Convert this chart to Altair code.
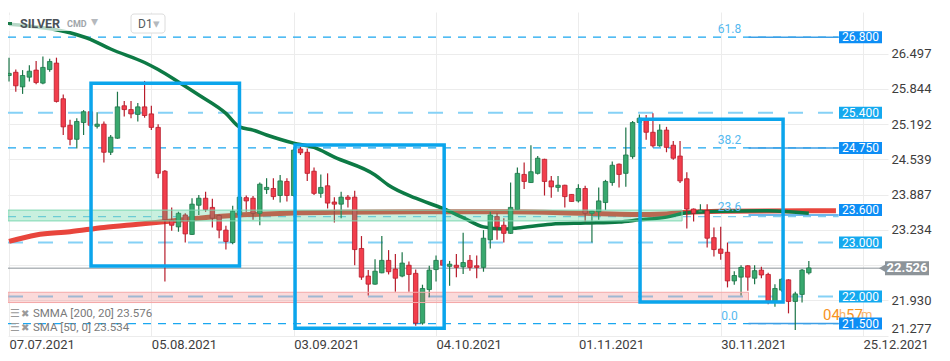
import altair as alt
import pandas as pd

# ---------------- data ----------------
opens = [26.09, 26.15, 25.88, 26.06, 26.19, 25.95, 26.20, 26.32, 25.66, 25.17,
         24.91, 25.22, 25.42, 25.15, 25.19, 24.67, 24.93, 25.53, 25.46, 25.37,
         25.51, 25.38, 25.13, 24.32, 23.41, 23.29, 23.51, 23.15, 23.69, 23.82,
         23.65, 23.50, 23.23, 23.00, 23.51, 23.83, 23.82, 23.54, 23.98, 24.00,
         23.87, 24.13, 23.87, 24.73, 24.67, 24.32, 23.91, 24.05, 23.75, 23.71,
         23.84, 23.84, 22.89, 22.38, 22.23, 22.44, 22.67, 22.51, 22.38, 22.58,
         22.43, 21.51, 22.13, 22.50, 22.67, 22.56, 22.58, 22.55, 22.67, 22.57,
         22.54, 23.05, 23.48, 23.32, 23.17, 23.61, 24.26, 24.11, 24.28, 24.54,
         24.14, 24.02, 24.06, 23.89, 23.77, 24.00, 23.54, 23.57, 23.74, 24.11,
         24.45, 24.28, 24.59, 25.22, 25.27, 25.04, 24.79, 25.08, 24.80, 24.60,
         24.18, 23.62, 23.56, 23.59, 23.09, 22.88, 22.82, 22.29, 22.36, 22.57,
         22.34, 22.49, 22.41, 21.91, 22.12, 22.31, 21.91, 22.04, 22.44]
highs = [26.42, 26.20, 26.19, 26.28, 26.36, 26.44, 26.40, 26.42, 25.74, 25.27,
         25.30, 25.45, 25.42, 25.41, 25.24, 24.99, 25.79, 25.62, 25.62, 25.58,
         25.99, 25.53, 25.19, 24.34, 23.65, 23.57, 23.54, 23.82, 23.88, 23.94,
         23.81, 23.52, 23.31, 23.68, 23.85, 23.87, 23.86, 24.11, 24.19, 24.19,
         24.25, 24.19, 24.74, 24.77, 24.74, 24.39, 24.26, 24.28, 23.84, 23.94,
         23.88, 23.96, 23.12, 22.49, 22.69, 23.12, 22.86, 22.79, 22.82, 22.65,
         22.50, 22.22, 22.57, 22.76, 22.68, 22.66, 22.79, 23.18, 22.77, 22.76,
         23.23, 23.57, 23.54, 23.45, 24.11, 24.39, 24.48, 24.80, 24.60, 24.55,
         24.23, 24.23, 24.07, 23.89, 24.08, 24.05, 23.59, 24.02, 24.16, 24.50,
         24.46, 25.13, 25.25, 25.37, 25.36, 25.39, 25.19, 25.14, 24.88, 24.88,
         24.30, 23.63, 23.71, 23.71, 23.28, 23.29, 23.00, 22.47, 22.58, 22.58,
         22.58, 22.55, 22.44, 22.23, 22.34, 22.32, 22.09, 22.51, 22.66]
lows = [25.98, 25.79, 25.75, 25.98, 25.93, 25.93, 26.16, 25.59, 24.99, 24.80,
        24.74, 24.99, 25.14, 25.11, 24.48, 24.62, 24.92, 25.33, 25.30, 25.24,
        25.31, 25.08, 24.19, 22.28, 23.22, 23.20, 23.00, 23.14, 23.51, 23.57,
        23.28, 23.08, 22.87, 22.97, 23.48, 23.57, 23.42, 23.32, 23.90, 23.79,
        23.74, 23.76, 23.85, 24.62, 24.14, 23.88, 23.83, 23.63, 23.37, 23.45,
        23.65, 22.58, 22.31, 22.02, 22.22, 22.43, 22.41, 22.09, 22.36, 22.09,
        21.46, 21.48, 21.99, 22.28, 22.58, 22.20, 22.36, 22.42, 22.48, 22.34,
        22.46, 22.89, 23.05, 23.00, 23.16, 23.60, 23.99, 24.10, 24.26, 23.87,
        23.83, 23.94, 23.65, 23.76, 23.74, 23.39, 23.00, 23.42, 23.60, 24.05,
        24.02, 24.03, 24.55, 25.21, 24.90, 24.76, 24.77, 24.67, 24.53, 24.10,
        23.26, 23.39, 23.54, 22.91, 22.74, 22.68, 22.17, 22.22, 22.02, 22.11,
        22.23, 22.34, 21.86, 21.81, 22.09, 21.69, 21.38, 21.89, 22.41]
closes = [26.13, 25.90, 26.09, 26.17, 25.96, 26.24, 26.35, 25.61, 25.14, 24.91,
          25.24, 25.42, 25.17, 25.19, 24.67, 24.95, 25.51, 25.46, 25.38, 25.51,
          25.35, 25.13, 24.28, 23.42, 23.32, 23.54, 23.16, 23.71, 23.82, 23.61,
          23.45, 23.23, 23.02, 23.58, 23.84, 23.77, 23.54, 24.08, 24.02, 23.85,
          24.14, 23.87, 24.71, 24.66, 24.28, 23.91, 24.02, 23.73, 23.71, 23.84,
          23.80, 22.87, 22.36, 22.23, 22.47, 22.67, 22.46, 22.34, 22.62, 22.41,
          21.51, 22.15, 22.49, 22.67, 22.58, 22.60, 22.54, 22.63, 22.54, 22.54,
          23.08, 23.51, 23.29, 23.17, 23.65, 24.28, 24.13, 24.31, 24.56, 24.13,
          24.03, 24.06, 23.85, 23.76, 24.00, 23.54, 23.58, 23.77, 24.13, 24.43,
          24.26, 24.62, 25.22, 25.30, 25.04, 24.79, 25.08, 24.76, 24.56, 24.14,
          23.62, 23.54, 23.60, 23.08, 22.87, 22.80, 22.29, 22.39, 22.54, 22.36,
          22.48, 22.40, 21.91, 22.15, 22.32, 21.91, 22.05, 22.49, 22.53]

# moving averages (bar index, value)
sma_idx = [0, 9, 12, 15, 20, 22, 25, 28, 32, 34, 36, 38, 42, 45, 48, 54, 56, 60,
           64, 67, 70, 73, 75, 80, 85, 90, 93, 97, 100, 105, 112, 118]
sma_val = [27.04, 26.88, 26.76, 26.58, 26.33, 26.20, 25.97, 25.73, 25.39, 25.14,
           25.08, 24.99, 24.84, 24.76, 24.58, 24.25, 24.06, 23.82, 23.63, 23.46,
           23.29, 23.25, 23.27, 23.34, 23.36, 23.38, 23.42, 23.47, 23.55, 23.58,
           23.59, 23.54]
smma_idx = [0, 4, 9, 14, 19, 24, 28, 33, 38, 43, 48, 61, 73, 85, 92, 97, 100, 105, 118, 122]
smma_val = [23.02, 23.14, 23.20, 23.28, 23.34, 23.40, 23.45, 23.50, 23.53, 23.55,
            23.56, 23.57, 23.57, 23.54, 23.52, 23.53, 23.56, 23.58, 23.59, 23.59]

# axes
x_tick_idx = [0, 21, 42, 63, 84, 105, 126]
x_tick_labels = ["07.07.2021", "05.08.2021", "03.09.2021", "04.10.2021",
                 "01.11.2021", "30.11.2021", "25.12.2021"]
y_ticks = [21.277, 21.930, 22.581, 23.234, 23.887, 24.539, 25.192, 25.844, 26.497]

# horizontal levels
level_vals = [26.8, 25.4, 24.75, 23.48, 23.0, 22.0, 21.5]
level_kind = ["short", "long", "short", "faint", "long", "long", "short"]
level_end = 122.4

box_vals = [26.8, 25.4, 24.75, 23.6, 23.0, 22.0, 21.5]
box_text = ["26.800", "25.400", "24.750", "23.600", "23.000", "22.000", "21.500"]
box_tone = ["dark", "light", "dark", "dark", "light", "light", "dark"]

fib_names = ["61.8", "38.2", "23.6", "0.0"]
fib_vals = [26.8, 24.75, 23.51, 21.5]
fib_start, fib_end, fib_text_x = 109.1, 122.4, 106.3

current_price = 22.526

# zones (x from, x to, price low, price high)
zone_names = ["support_green", "support_red"]
zone_x1 = [-0.15, -0.15]
zone_x2 = [99.3, 109.1]
zone_lo = [23.40, 21.89]
zone_hi = [23.60, 22.08]

# highlight boxes (bar index from/to, price top/bottom)
hb_x1 = [12.1, 42.2, 93.1]
hb_x2 = [34.0, 64.2, 114.2]
hb_top = [25.946, 24.804, 25.28]
hb_bot = [22.566, 21.414, 21.90]

# ---------------- chart ----------------
W, H = 880, 324
XDOM = [-0.15, 129.68]
YDOM = [21.271, 27.265]
FONT = "Roboto"

candles = pd.DataFrame({"i": list(range(len(opens))), "o": opens, "h": highs,
                        "l": lows, "c": closes})
candles["dir"] = ["up" if c >= o else "down" for o, c in zip(opens, closes)]

label_arr = "[" + ",".join(f"'{s}'" for s in x_tick_labels) + "]"
x_axis = alt.Axis(values=x_tick_idx, labelExpr=f"{label_arr}[round(datum.value/21)]",
                  labelAlign="left", labelBaseline="top", labelPadding=2, ticks=False,
                  domain=False, grid=True, gridColor="#ececec", labelFont=FONT,
                  labelFontSize=13, labelColor="#3d3d3d", labelFlush=False,
                  labelOverlap=False, title=None)
y_axis = alt.Axis(orient="right", values=y_ticks,
                  labelExpr="abs(datum.value - 22.581) < 0.001 ? '' : format(datum.value, '.3f')",
                  labelAlign="left", labelPadding=3, ticks=False, domain=False, grid=True,
                  gridColor="#ececec", labelFont=FONT, labelFontSize=13,
                  labelColor="#3d3d3d", labelFlush=True, labelOverlap=False, title=None)


def X(f):
    return alt.X(f"{f}:Q", scale=alt.Scale(domain=XDOM, nice=False, zero=False), title=None)


def Y(f):
    return alt.Y(f"{f}:Q", scale=alt.Scale(domain=YDOM, nice=False, zero=False), title=None)


dark_scale = alt.Scale(domain=["up", "down"], range=["#1c7548", "#b71c2b"])
fill_scale = alt.Scale(domain=["up", "down"], range=["#38a86e", "#f23e4c"])

layers = []

# current price line (carries the axes)
cp_df = pd.DataFrame({"v": [current_price], "x1": [XDOM[0]], "x2": [XDOM[1]]})
layers.append(alt.Chart(cp_df).mark_rule(color="#8a9298", strokeWidth=1).encode(
    x=alt.X("x1:Q", scale=alt.Scale(domain=XDOM, nice=False, zero=False), axis=x_axis),
    x2="x2:Q",
    y=alt.Y("v:Q", scale=alt.Scale(domain=YDOM, nice=False, zero=False), axis=y_axis)))

# dashed levels
lv = pd.DataFrame({"v": level_vals, "kind": level_kind,
                   "x1": [XDOM[0]] * len(level_vals), "x2": [level_end] * len(level_vals)})
styles = {"short": ("#1aa7f0", [8, 7], 1.3), "long": ("#85d1f6", [15, 15], 2.0),
          "faint": ("#7fcdf0", [8, 7], 1.2)}
for k, (col, dash, wd) in styles.items():
    layers.append(alt.Chart(lv).transform_filter(alt.datum.kind == k).mark_rule(
        color=col, strokeDash=dash, strokeWidth=wd).encode(
        x=X("x1"), x2="x2:Q", y=Y("v")))

# fib solid lines
fib = pd.DataFrame({"name": fib_names, "v": fib_vals,
                    "x1": [fib_start] * 4, "x2": [fib_end] * 4, "tx": [fib_text_x] * 4})
layers.append(alt.Chart(fib).mark_rule(color="#3d9fe6", strokeWidth=1.5).encode(
    x=X("x1"), x2="x2:Q", y=Y("v")))

# moving averages
smma = pd.DataFrame({"i": smma_idx, "v": smma_val})
sma = pd.DataFrame({"i": sma_idx, "v": sma_val})
layers.append(alt.Chart(smma).mark_line(color="#e8453c", strokeWidth=5,
                                        interpolate="monotone").encode(x=X("i"), y=Y("v")))
layers.append(alt.Chart(sma).mark_line(color="#0d7a45", strokeWidth=3.5,
                                       interpolate="monotone").encode(x=X("i"), y=Y("v")))

# candles
cb = alt.Chart(candles)
layers.append(cb.mark_rule(strokeWidth=1.2).encode(
    x=X("i"), y=Y("l"), y2="h:Q",
    stroke=alt.Stroke("dir:N", scale=dark_scale, legend=None)))
layers.append(cb.transform_calculate(xl="datum.i - 0.33", xr="datum.i + 0.33").mark_rect(
    strokeWidth=0.8).encode(
    x=X("xl"), x2="xr:Q", y=Y("o"), y2="c:Q",
    fill=alt.Fill("dir:N", scale=fill_scale, legend=None),
    stroke=alt.Stroke("dir:N", scale=dark_scale, legend=None)))

# zones
zn = pd.DataFrame({"name": zone_names, "x1": zone_x1, "x2": zone_x2,
                   "lo": zone_lo, "hi": zone_hi})
layers.append(alt.Chart(zn).transform_filter(alt.datum.name == "support_green").mark_rect(
    fill="#3cc98c", fillOpacity=0.28, stroke="#7fd8b2", strokeWidth=1).encode(
    x=X("x1"), x2="x2:Q", y=Y("lo"), y2="hi:Q"))
layers.append(alt.Chart(zn).transform_filter(alt.datum.name == "support_red").mark_rect(
    fill="#f06a6a", fillOpacity=0.25, stroke="#f4a7a7", strokeWidth=1).encode(
    x=X("x1"), x2="x2:Q", y=Y("lo"), y2="hi:Q"))

# highlight boxes
hb = pd.DataFrame({"x1": hb_x1, "x2": hb_x2, "top": hb_top, "bot": hb_bot})
layers.append(alt.Chart(hb).mark_rect(filled=False, stroke="#0ba5ec", strokeWidth=3.5).encode(
    x=X("x1"), x2="x2:Q", y=Y("top"), y2="bot:Q"))

# fib labels
layers.append(alt.Chart(fib).mark_text(color="#55b9ef", fontSize=12, font=FONT, dy=-8).encode(
    x=X("tx"), y=Y("v"), text="name:N"))

# countdown text
for t, xx, cc, fs in [("04", 815, "#f7931e", 15), ("h", 831, "#f7b46a", 13),
                      ("57", 838, "#f7931e", 15), ("m", 853, "#f7b46a", 13)]:
    layers.append(alt.Chart(pd.DataFrame({"t": [t]})).mark_text(
        align="left", baseline="middle", color=cc, fontSize=fs, font=FONT).encode(
        x=alt.value(xx), y=alt.value(303), text="t:N"))

# price boxes
bx = pd.DataFrame({"v": box_vals, "t": box_text, "tone": box_tone})
layers.append(alt.Chart(bx).mark_tick(orient="horizontal", size=43, thickness=12,
                                      opacity=1).encode(
    x=alt.value(852.5), y=Y("v"),
    color=alt.Color("tone:N", scale=alt.Scale(domain=["dark", "light"],
                                              range=["#0d8ef5", "#14a9ef"]), legend=None)))
layers.append(alt.Chart(bx).mark_text(color="white", fontSize=12, font=FONT).encode(
    x=alt.value(852.5), y=Y("v"), text="t:N"))

# current price tag
cp = pd.DataFrame({"v": [current_price], "t": [f"{current_price:.3f}"]})
layers.append(alt.Chart(cp).mark_point(shape="triangle-left", filled=True, size=90,
                                       color="#8d9499", opacity=1).encode(
    x=alt.value(875), y=Y("v")))
layers.append(alt.Chart(cp).mark_tick(orient="horizontal", size=44, thickness=14,
                                      color="#8d9499", opacity=1).encode(
    x=alt.value(899), y=Y("v")))
layers.append(alt.Chart(cp).mark_text(color="white", fontSize=13, font=FONT,
                                      fontWeight="bold").encode(
    x=alt.value(899), y=Y("v"), text="t:N"))

# header
one = pd.DataFrame({"k": [0]})
layers.append(alt.Chart(one).mark_rect(color="white", opacity=0.7).encode(
    x=alt.value(0), x2=alt.value(100), y=alt.value(3), y2=alt.value(19)))
layers.append(alt.Chart(one).mark_rect(color="#1b7b4a").encode(
    x=alt.value(0), x2=alt.value(4), y=alt.value(10), y2=alt.value(13)))
layers.append(alt.Chart(one).mark_rect(fill="white", stroke="#dcdcdc", cornerRadius=3).encode(
    x=alt.value(123), x2=alt.value(157), y=alt.value(2), y2=alt.value(21)))
for t, xx, yy, cc, fs, fw, fnt in [
        ("SILVER", 12, 11.5, "#4b5157", 12.5, "bold", FONT),
        ("CMD", 59, 12, "#a0a5aa", 9, "bold", FONT),
        ("▾", 83, 10, "#b5b9bd", 14, "normal", "DejaVu Sans"),
        ("D1", 130, 12, "#555b60", 12, "normal", FONT),
        ("▾", 145, 12, "#b5b9bd", 13, "normal", "DejaVu Sans")]:
    layers.append(alt.Chart(pd.DataFrame({"t": [t]})).mark_text(
        align="left", baseline="middle", color=cc, fontSize=fs, fontWeight=fw,
        font=fnt).encode(x=alt.value(xx), y=alt.value(yy), text="t:N"))

# indicator legend (bottom left)
ind_text = ["SMMA [200,  20]  23.576", "SMA [50,  0]  23.534"]
for t, yy in zip(ind_text, [302, 316]):
    layers.append(alt.Chart(pd.DataFrame({"t": ["☰"]})).mark_text(
        align="left", baseline="middle", color="#9a9a9a", fontSize=11,
        font="DejaVu Sans").encode(x=alt.value(2), y=alt.value(yy), text="t:N"))
    layers.append(alt.Chart(pd.DataFrame({"t": ["✖"]})).mark_text(
        align="left", baseline="middle", color="#9a9a9a", fontSize=10,
        font="DejaVu Sans").encode(x=alt.value(13), y=alt.value(yy), text="t:N"))
    layers.append(alt.Chart(pd.DataFrame({"t": [t]})).mark_text(
        align="left", baseline="middle", color="#7a7a7a", fontSize=11.5,
        font=FONT).encode(x=alt.value(25), y=alt.value(yy), text="t:N"))

chart = alt.layer(*layers).properties(
    width=W, height=H,
    autosize=alt.AutoSizeParams(type="none"),
    padding={"left": 0, "top": 4, "right": 52, "bottom": 22},
).configure_view(stroke=None)

chart.save("out.html", embed_options={"renderer": "svg", "actions": False})
